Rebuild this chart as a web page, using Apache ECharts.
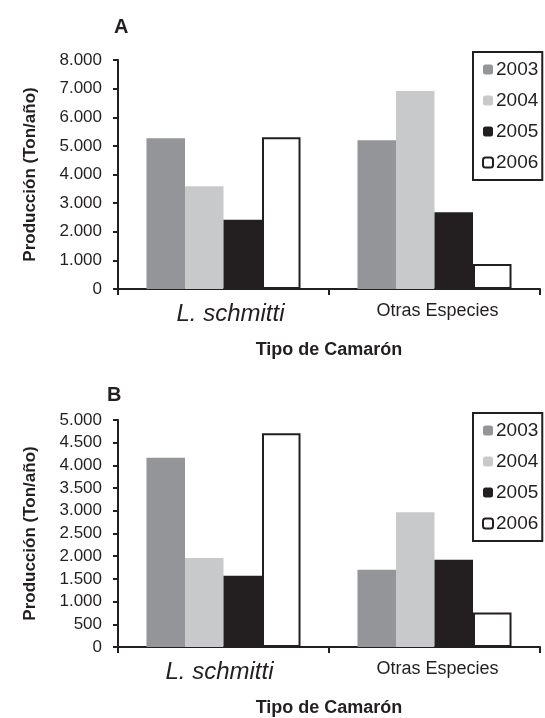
<!DOCTYPE html>
<html>
<head>
<meta charset="utf-8">
<script src="https://cdn.jsdelivr.net/npm/echarts@6/dist/echarts.min.js"></script>
<style>html,body{margin:0;padding:0;background:#fff;}#c{width:545px;height:718px;}</style>
</head>
<body>
<div id="c"></div>
<script>
const categories = ['L. schmitti', 'Otras Especies'];
const years = ['2003', '2004', '2005', '2006'];
// Panel A values (Ton/año)
const a2003 = [5270, 5200];
const a2004 = [3590, 6920];
const a2005 = [2420, 2680];
const a2006 = [5300, 870];
// Panel B values (Ton/año)
const b2003 = [4170, 1700];
const b2004 = [1960, 2970];
const b2005 = [1570, 1920];
const b2006 = [4710, 760];
const yTicksA = {min: 0, max: 8000, interval: 1000};
const yTicksB = {min: 0, max: 5000, interval: 500};

const FONT = 'Liberation Sans, Arial, sans-serif';
const INK = '#231f20';
const colors = {'2003': '#939598', '2004': '#c8c9cb', '2005': '#231f20', '2006': '#ffffff'};

function fmt(v) {
  return String(v).replace(/\B(?=(\d{3})+(?!\d))/g, '.');
}

function catData(gi) {
  return [
    {value: categories[0], textStyle: {fontStyle: 'italic', fontSize: 24, color: INK, fontFamily: FONT,
      padding: gi === 0 ? [0, 0, 0, 14] : [0, 8, 0, 0]}},
    {value: categories[1], textStyle: {fontSize: 18, color: INK, fontFamily: FONT, padding: [0, 0, 0, 6]}}
  ];
}

function xAx(gi) {
  return {
    type: 'category', gridIndex: gi, data: catData(gi),
    axisLine: {lineStyle: {color: INK, width: 2}},
    axisTick: {show: true, length: 6, inside: false, lineStyle: {color: INK, width: 2}},
    axisLabel: {margin: 13, color: INK, fontFamily: FONT},
    name: 'Tipo de Camarón', nameLocation: 'middle', nameGap: 52,
    nameTextStyle: {fontWeight: 'bold', fontSize: 18, color: INK, fontFamily: FONT}
  };
}

function yAx(gi, t) {
  return {
    type: 'value', gridIndex: gi, min: t.min, max: t.max, interval: t.interval,
    axisLine: {show: true, lineStyle: {color: INK, width: 2}},
    axisTick: {show: true, length: 5, inside: false, lineStyle: {color: INK, width: 2}},
    splitLine: {show: false},
    axisLabel: {formatter: fmt, fontSize: 17, color: INK, fontFamily: FONT, margin: 16},
    name: 'Producción (Ton/año)', nameLocation: 'middle', nameGap: 79,
    nameTextStyle: {fontWeight: 'bold', fontSize: 17, color: INK, fontFamily: FONT}
  };
}

const dataA = {'2003': a2003, '2004': a2004, '2005': a2005, '2006': a2006};
const dataB = {'2003': b2003, '2004': b2004, '2005': b2005, '2006': b2006};

const series = [];
[[dataA, 0], [dataB, 1]].forEach(([d, gi]) => {
  years.forEach(y => {
    series.push({
      name: y, type: 'bar', xAxisIndex: gi, yAxisIndex: gi, data: d[y],
      barGap: '0%', barCategoryGap: '27%',
      itemStyle: y === '2006'
        ? {color: '#ffffff', borderColor: INK, borderWidth: 2}
        : {color: colors[y]},
      emphasis: {disabled: true}
    });
  });
});

function leg(top) {
  return {
    data: years, orient: 'vertical', left: 473, top: top, width: 68,
    itemWidth: 10, itemHeight: 10, itemGap: 12,
    borderColor: INK, borderWidth: 2, padding: [8, 4, 8, 9],
    backgroundColor: '#fff',
    textStyle: {fontSize: 19, color: INK, fontFamily: FONT, padding: [0, 0, 0, -2]},
    selectedMode: false
  };
}

const chart = echarts.init(document.getElementById('c'), null, {renderer: 'canvas'});
chart.setOption({
  animation: false,
  backgroundColor: '#fff',
  title: [
    {text: 'A', left: 109, top: 12, textStyle: {fontSize: 20, fontWeight: 'bold', color: INK, fontFamily: FONT}},
    {text: 'B', left: 102, top: 380, textStyle: {fontSize: 20, fontWeight: 'bold', color: INK, fontFamily: FONT}}
  ],
  grid: [
    {left: 118, right: 5, top: 60, height: 229},
    {left: 118, right: 5, top: 420, height: 229}
  ],
  xAxis: [xAx(0), xAx(1)],
  yAxis: [yAx(0, yTicksA), yAx(1, yTicksB)],
  legend: [leg(52), leg(413)],
  series: series
});
</script>
</body>
</html>
